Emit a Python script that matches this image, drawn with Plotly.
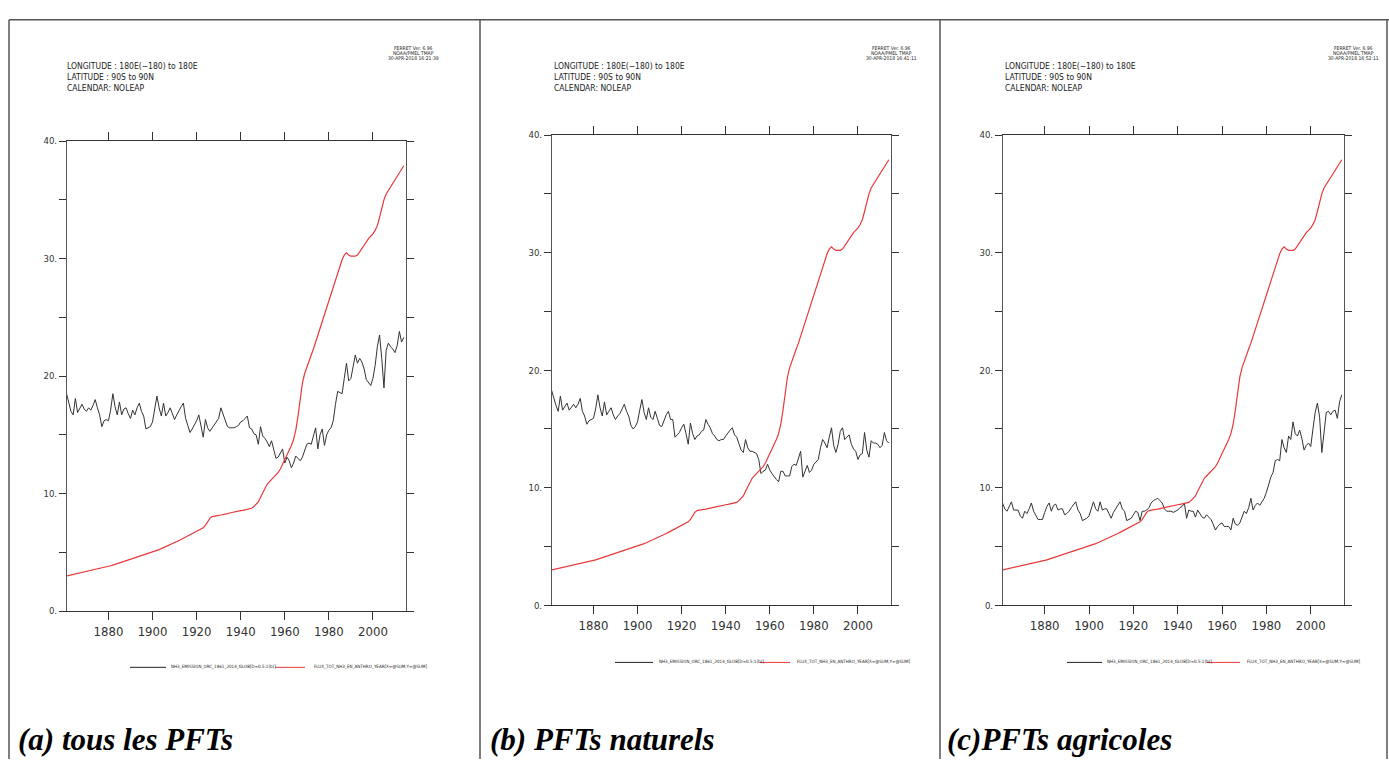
import plotly.graph_objects as go

W, H = 1389, 764

years = list(range(1861, 2015))

red_flux = [
    3.00, 3.04, 3.08, 3.12, 3.16, 3.20, 3.24, 3.28, 3.32, 3.36,
    3.40, 3.44, 3.48, 3.52, 3.56, 3.61, 3.66, 3.71, 3.76, 3.81,
    3.86, 3.92, 3.98, 4.04, 4.10, 4.16, 4.22, 4.28, 4.34, 4.40,
    4.46, 4.52, 4.58, 4.64, 4.70, 4.76, 4.82, 4.88, 4.94, 5.00,
    5.08, 5.16, 5.24, 5.32, 5.40, 5.48, 5.56, 5.64, 5.72, 5.80,
    5.90, 6.00, 6.10, 6.20, 6.30, 6.40, 6.50, 6.60, 6.70, 6.80,
    6.90, 7.00, 7.10, 7.30, 7.60, 7.90, 8.05, 8.10, 8.12, 8.15,
    8.18, 8.20, 8.25, 8.30, 8.35, 8.40, 8.45, 8.50, 8.52, 8.55,
    8.58, 8.62, 8.66, 8.70, 8.75, 8.90, 9.10, 9.30, 9.70, 10.10,
    10.50, 10.80, 11.00, 11.20, 11.40, 11.60, 11.80, 12.10, 12.50, 12.90,
    13.20, 13.60, 14.10, 14.60, 15.40, 16.60, 18.00, 19.40, 20.20, 20.80,
    21.30, 21.80, 22.30, 22.90, 23.50, 24.10, 24.70, 25.30, 25.90, 26.40,
    27.00, 27.60, 28.20, 28.80, 29.40, 29.90, 30.30, 30.50, 30.30, 30.20,
    30.20, 30.20, 30.30, 30.60, 30.90, 31.20, 31.50, 31.70, 31.90, 32.10,
    32.40, 32.80, 33.50, 34.30, 35.00, 35.50, 35.80, 36.10, 36.40, 36.70,
    37.00, 37.30, 37.60, 37.90,
]

black_all = [
    18.5, 17.6, 17.0, 16.7, 18.1, 16.9, 17.3, 17.6, 17.2, 17.0,
    17.3, 17.1, 17.5, 18.0, 17.3, 16.7, 15.7, 16.2, 16.3, 16.2,
    17.1, 18.5, 17.4, 16.7, 17.8, 16.7, 17.2, 17.3, 16.8, 16.4,
    17.1, 16.7, 17.3, 17.7, 17.0, 16.6, 15.5, 15.6, 15.7, 16.1,
    17.2, 18.3, 17.3, 16.6, 17.7, 16.6, 16.9, 17.3, 16.8, 16.3,
    16.7, 17.1, 17.4, 17.7, 16.4, 15.8, 15.2, 15.5, 15.8, 16.2,
    16.7, 15.8, 14.8, 16.3, 15.6, 15.3, 15.6, 15.9, 16.1, 16.4,
    17.3, 16.7, 16.1, 15.7, 15.6, 15.6, 15.6, 15.7, 15.8, 16.1,
    16.2, 16.4, 16.6, 15.6, 15.5, 15.1, 15.0, 14.2, 15.7, 14.9,
    14.7, 14.4, 14.0, 14.5, 13.8, 13.0, 13.1, 13.4, 13.8, 12.6,
    13.1, 12.8, 12.2, 12.6, 13.2, 13.0, 12.8, 13.1, 13.6, 14.2,
    14.3, 14.2, 14.9, 15.6, 13.8, 15.0, 15.5, 14.1, 15.0, 15.4,
    15.6, 16.2, 17.6, 18.7, 18.6, 18.5, 19.8, 21.1, 19.6, 19.8,
    20.8, 21.8, 21.1, 21.5, 21.2, 20.6, 19.7, 19.4, 19.2, 19.8,
    20.9, 22.5, 23.5, 21.5, 19.0, 22.2, 22.8, 22.5, 22.3, 22.0,
    22.6, 23.8, 22.9, 23.3,
]

black_nat = [
    18.3, 17.6, 17.0, 16.5, 17.8, 16.6, 16.9, 17.2, 16.6, 16.9,
    17.1, 16.8, 17.1, 17.6, 16.5, 16.1, 15.4, 15.7, 15.8, 15.9,
    16.7, 17.9, 16.8, 16.1, 17.3, 16.2, 16.5, 16.8, 16.2, 15.8,
    16.1, 16.3, 16.7, 17.1, 16.5, 16.1, 15.3, 15.0, 15.2, 15.6,
    16.6, 17.5, 16.4, 15.8, 16.8, 16.0, 15.8, 16.5, 15.9, 15.3,
    15.2, 15.8, 16.2, 16.5, 15.8, 15.8, 14.3, 14.5, 14.7, 15.1,
    15.4, 14.6, 13.7, 15.5, 14.6, 14.1, 14.4, 14.5, 14.8, 14.9,
    15.8, 15.4, 15.1, 14.6, 14.4, 14.1, 14.0, 14.1, 14.1, 14.4,
    14.7, 14.9, 15.1, 14.5, 14.3, 13.7, 13.2, 13.0, 14.1, 13.4,
    13.1, 13.1, 13.0, 12.9, 12.4, 11.2, 11.4, 11.5, 12.0, 11.5,
    11.2, 10.9, 10.7, 10.5, 11.4, 11.4, 11.0, 11.0, 11.0, 11.8,
    12.0, 11.9, 12.6, 13.1, 10.9, 11.5, 11.9, 11.3, 11.5, 12.0,
    12.2, 12.4, 13.4, 14.1, 13.8, 13.4, 14.3, 15.1, 13.6, 13.0,
    13.7, 14.8, 15.1, 14.1, 14.3, 14.5, 13.7, 13.3, 13.1, 12.4,
    12.8, 12.9, 14.7, 13.2, 12.6, 14.0, 13.8, 13.8, 13.7, 13.4,
    13.6, 14.7, 14.0, 13.8,
]

black_agr = [
    8.7, 8.2, 8.0, 8.4, 8.8, 8.1, 8.1, 8.1, 7.6, 7.4,
    8.0, 7.8, 8.2, 8.7, 8.0, 7.6, 7.3, 7.3, 7.3, 7.9,
    8.4, 8.7, 8.0, 8.5, 8.6, 8.1, 8.2, 8.2, 7.7, 7.8,
    8.0, 8.3, 8.6, 8.8, 8.1, 7.8, 7.2, 7.3, 7.4, 7.6,
    8.3, 8.8, 8.2, 8.0, 8.8, 8.1, 8.2, 8.2, 7.8, 7.4,
    7.9, 8.2, 8.5, 8.8, 8.2, 8.0, 7.2, 7.3, 7.4, 7.7,
    8.0, 7.9, 7.2, 8.0, 8.0, 8.1, 8.3, 8.7, 8.9, 9.0,
    9.1, 8.9, 8.7, 8.2, 8.0, 8.0, 8.0, 7.9, 8.0, 8.1,
    8.3, 8.4, 8.7, 7.4, 8.1, 8.0, 8.0, 7.5, 8.1, 7.8,
    7.5, 7.4, 7.7, 7.5, 7.3, 6.9, 6.4, 6.7, 6.9, 7.0,
    6.7, 6.7, 6.7, 6.4, 7.4, 6.9, 6.8, 7.0, 7.6, 8.0,
    7.8, 8.3, 9.1, 8.1, 8.5, 8.7, 8.5, 8.8, 9.1, 9.6,
    10.3, 10.9, 11.3, 12.3, 12.4, 12.3, 14.1, 13.4, 13.0, 14.4,
    14.1, 15.6, 14.6, 14.4, 14.9, 14.2, 13.2, 13.6, 13.8, 13.5,
    15.0, 16.4, 17.2, 16.0, 13.0, 14.9, 16.4, 16.5, 16.2, 16.5,
    16.6, 15.9, 17.3, 17.9,
]

x_ticks = [1880, 1900, 1920, 1940, 1960, 1980, 2000]
y_ticks = [0, 5, 10, 15, 20, 25, 30, 35, 40]
y_ticktext = ["0.", "", "10.", "", "20.", "", "30.", "", "40."]

header_lines = ["LONGITUDE : 180E(\u2212180) to 180E", "LATITUDE : 90S to 90N", "CALENDAR: NOLEAP"]
stamps = [
    ["FERRET Ver. 6.96", "NOAA/PMEL TMAP", "30-APR-2018 16:21:39"],
    ["FERRET Ver. 6.96", "NOAA/PMEL TMAP", "30-APR-2018 16:41:11"],
    ["FERRET Ver. 6.96", "NOAA/PMEL TMAP", "30-APR-2018 16:52:11"],
]
legend_black = "NH3_EMISSION_ORC_1861_2014_GLOB[D=0.5:1(b)]"
legend_red = "FLUX_TOT_NH3_EN_ANTHRO_YEAR[X=@SUM,Y=@SUM]"
captions = ["(a) tous les PFTs", "(b) PFTs naturels", "(c)PFTs agricoles"]

COND = "Liberation Sans Narrow, DejaVu Sans Condensed, Roboto Condensed, Liberation Sans, sans-serif"

def px(x):
    return x / W

def py(y):
    return 1 - y / H

# panel geometry in pixels: left, right, top(40), bottom(0)
panels = [
    dict(l=67, r=406, t=137, b=614, hx=65, stx=414, lg=(130, 166, 169, 275, 305, 312, 671), cap=16),
    dict(l=552, r=891, t=131, b=608, hx=552, stx=891, lg=(615, 653, 657, 760, 790, 795, 666), cap=488),
    dict(l=1003, r=1344, t=131, b=608, hx=1003, stx=1353, lg=(1067, 1102, 1105, 1207, 1240, 1245, 666), cap=945),
]
blacks = [black_all, black_nat, black_agr]

fig = go.Figure()
shapes = []
annotations = []
layout_axes = {}

for k, p in enumerate(panels):
    sfx = "" if k == 0 else str(k + 1)
    xa = "x" + sfx
    ya = "y" + sfx
    fig.add_trace(go.Scatter(x=years, y=blacks[k], mode="lines", xaxis=xa, yaxis=ya,
                             line=dict(color="#333333", width=1), showlegend=False, hoverinfo="skip"))
    fig.add_trace(go.Scatter(x=years, y=red_flux, mode="lines", xaxis=xa, yaxis=ya,
                             line=dict(color="#e8393a", width=1.2), showlegend=False, hoverinfo="skip"))
    layout_axes["xaxis" + sfx] = dict(
        domain=[px(p["l"]), px(p["r"])], anchor=ya, range=[1861.2, 2015],
        tickvals=x_ticks, ticktext=[str(v) for v in x_ticks], ticks="outside", ticklen=8,
        tickcolor="#333", showline=True, linecolor="#333", linewidth=1, mirror="ticks",
        showgrid=False, zeroline=False, tickfont=dict(family=COND, size=13, color="#333"),
    )
    layout_axes["yaxis" + sfx] = dict(
        domain=[py(p["b"]), py(p["t"])], anchor=xa, range=[0, 40],
        tickvals=y_ticks, ticktext=y_ticktext, ticks="outside", ticklen=7,
        tickcolor="#333", showline=True, linecolor="#555", linewidth=1, mirror="ticks",
        showgrid=False, zeroline=False, tickfont=dict(family=COND, size=9.5, color="#333"),
    )
    for j, t in enumerate(header_lines):
        annotations.append(dict(x=px(p["hx"]), y=py(61 + j * 11.2), xref="paper", yref="paper",
                                text=t, showarrow=False, xanchor="left", yanchor="middle",
                                font=dict(family=COND, size=8.5, color="#222")))
    for j, t in enumerate(stamps[k]):
        annotations.append(dict(x=px(p["stx"]), y=py(43 + j * 4.8), xref="paper", yref="paper",
                                text=t, showarrow=False, xanchor="center", yanchor="middle",
                                font=dict(family=COND, size=5, color="#222")))
    bl0, bl1, bt, rl0, rl1, rt, ly = p["lg"]
    shapes.append(dict(type="line", xref="paper", yref="paper", x0=px(bl0), x1=px(bl1),
                       y0=py(ly), y1=py(ly), line=dict(color="#222", width=1)))
    shapes.append(dict(type="line", xref="paper", yref="paper", x0=px(rl0), x1=px(rl1),
                       y0=py(ly), y1=py(ly), line=dict(color="#e8393a", width=1)))
    annotations.append(dict(x=px(bt), y=py(ly), xref="paper", yref="paper", text=legend_black,
                            showarrow=False, xanchor="left", yanchor="middle",
                            font=dict(family=COND, size=4.5, color="#222")))
    annotations.append(dict(x=px(rt), y=py(ly), xref="paper", yref="paper", text=legend_red,
                            showarrow=False, xanchor="left", yanchor="middle",
                            font=dict(family=COND, size=4.5, color="#222")))
    annotations.append(dict(x=px(p["cap"]), y=py(744), xref="paper", yref="paper",
                            text="<b><i>" + captions[k] + "</i></b>", showarrow=False,
                            xanchor="left", yanchor="middle",
                            font=dict(family="Liberation Serif, serif", size=31, color="#000")))

# table borders
bc = "#555"
shapes.append(dict(type="line", xref="paper", yref="paper", x0=px(9), x1=px(1389), y0=py(14), y1=py(14), line=dict(color=bc, width=1.5)))
for xv in [9, 480, 940, 1387]:
    shapes.append(dict(type="line", xref="paper", yref="paper", x0=px(xv), x1=px(xv), y0=py(14), y1=py(764), line=dict(color=bc, width=1.5)))

fig.update_layout(
    width=W, height=H, margin=dict(l=0, r=0, t=0, b=0),
    paper_bgcolor="white", plot_bgcolor="white",
    shapes=shapes, annotations=annotations, showlegend=False,
    **layout_axes,
)

fig.write_html("out.html")
